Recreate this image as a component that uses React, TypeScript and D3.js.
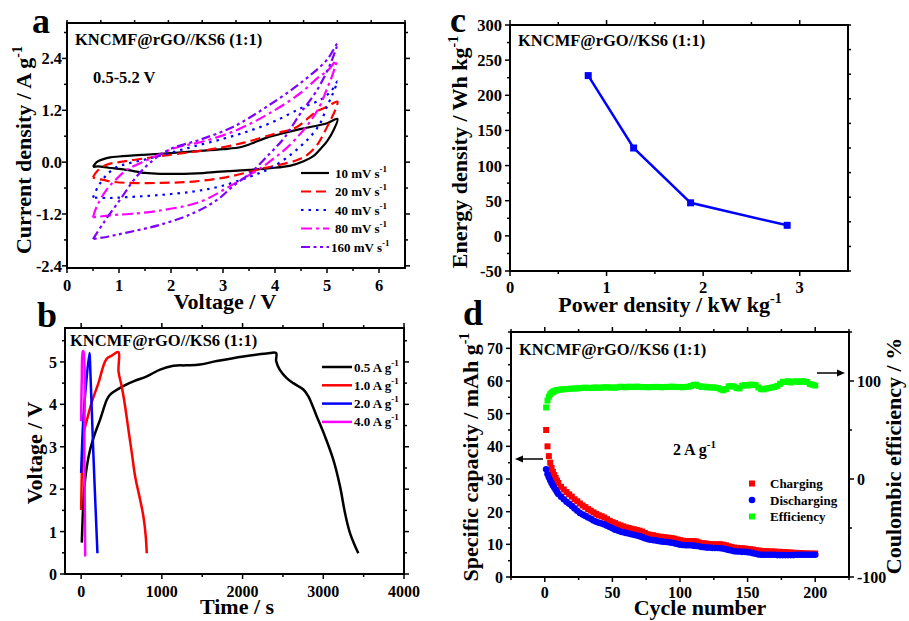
import React from "react";
import * as d3 from "d3";

const FONT = "'Liberation Serif','Times New Roman',Times,serif";
const SAMPLE = "KNCMF@rGO//KS6 (1:1)";

// ---------------- Panel a : CV curves ----------------
const cvRates = ["10", "20", "40", "80", "160"];
const cvColors = ["#000000", "#ff0000", "#0000ff", "#ff00ff", "#8000ff"];
const cvDash = ["none", "10,5", "2.5,5", "11,4,3,4", "9,3.5,3,3.5,3,3.5"];
const cv10V = [0.5, 0.57, 0.7, 0.83, 1.0, 1.47, 2.0, 2.43, 3.0, 3.35, 3.55, 3.8, 4.1, 4.5, 5.0, 5.2, 5.13, 5.0, 4.87, 4.75, 4.55, 4.3, 3.91, 3.5, 2.95, 2.5, 1.79, 1.5, 1.15, 0.8, 0.6, 0.5];
const cv10I = [-0.11, 0.0, 0.07, 0.11, 0.13, 0.17, 0.21, 0.25, 0.3, 0.35, 0.43, 0.55, 0.65, 0.77, 0.9, 1.0, 0.75, 0.48, 0.3, 0.15, 0.02, -0.08, -0.14, -0.18, -0.22, -0.26, -0.27, -0.25, -0.18, -0.13, -0.1, -0.11];
const cv20V = [0.5, 0.57, 0.76, 1.0, 1.28, 1.98, 2.5, 2.88, 3.4, 4.0, 4.4, 4.6, 4.8, 5.0, 5.2, 5.16, 5.07, 4.94, 4.81, 4.62, 4.43, 4.1, 3.78, 3.14, 2.43, 1.8, 1.15, 0.85, 0.7, 0.55, 0.5];
const cv20I = [-0.35, -0.22, -0.06, 0.0, 0.05, 0.17, 0.25, 0.32, 0.45, 0.66, 0.8, 0.98, 1.17, 1.28, 1.4, 1.21, 0.98, 0.67, 0.4, 0.17, 0.05, -0.06, -0.14, -0.33, -0.45, -0.48, -0.48, -0.45, -0.41, -0.38, -0.35];
const cv40V = [0.5, 0.6, 0.76, 0.95, 1.15, 1.5, 2.0, 2.43, 3.0, 3.5, 4.0, 4.5, 4.87, 5.07, 5.2, 5.1, 5.0, 4.87, 4.68, 4.52, 4.3, 3.91, 3.53, 2.95, 2.43, 1.79, 1.15, 0.8, 0.5];
const cv40I = [-0.82, -0.56, -0.3, -0.12, -0.04, 0.06, 0.22, 0.36, 0.54, 0.72, 0.95, 1.25, 1.44, 1.63, 1.87, 1.55, 1.29, 0.9, 0.59, 0.4, 0.17, -0.14, -0.33, -0.56, -0.68, -0.76, -0.81, -0.83, -0.82];
const cv80V = [0.5, 0.57, 0.76, 0.96, 1.15, 1.54, 2.11, 2.56, 3.2, 3.85, 4.49, 4.87, 5.0, 5.18, 5.1, 5.0, 4.87, 4.7, 4.49, 4.2, 3.97, 3.7, 3.5, 3.07, 2.56, 1.79, 1.2, 0.83, 0.5];
const cv80I = [-1.28, -1.03, -0.64, -0.38, -0.18, 0.05, 0.34, 0.46, 0.71, 1.1, 1.6, 2.0, 2.1, 2.35, 2.0, 1.7, 1.32, 0.98, 0.66, 0.3, 0.08, -0.16, -0.3, -0.6, -0.92, -1.12, -1.2, -1.23, -1.28];
const cv160V = [0.5, 0.7, 1.02, 1.34, 1.66, 1.98, 2.56, 3.2, 3.85, 4.49, 5.0, 5.2, 5.07, 4.81, 4.49, 4.17, 3.91, 3.53, 3.2, 2.88, 2.43, 1.79, 1.15, 0.8, 0.5];
const cv160I = [-1.78, -1.41, -0.87, -0.33, 0.05, 0.3, 0.52, 0.82, 1.29, 1.83, 2.37, 2.75, 2.29, 1.67, 1.13, 0.55, 0.21, -0.25, -0.55, -0.88, -1.18, -1.45, -1.63, -1.72, -1.78];
const cvV = [cv10V, cv20V, cv40V, cv80V, cv160V];
const cvI = [cv10I, cv20I, cv40I, cv80I, cv160I];
const aXTicks = [0, 1, 2, 3, 4, 5, 6];
const aXMinor = [0.5, 1.5, 2.5, 3.5, 4.5, 5.5];
const aYTicks = [-2.4, -1.2, 0, 1.2, 2.4];
const aYLabels = ["-2.4", "-1.2", "0.0", "1.2", "2.4"];
const aYMinor = [-1.8, -0.6, 0.6, 1.8, 3.0];

// ---------------- Panel b : GCD ----------------
const gcdRates = ["0.5 A g", "1.0 A g", "2.0 A g", "4.0 A g"];
const gcdColors = ["#000000", "#ff0000", "#0000ff", "#ff00ff"];
const gcd05T = [8, 21, 37, 70, 111, 173, 235, 318, 359, 483, 648, 813, 978, 1143, 1300, 1474, 1680, 2010, 2300, 2415, 2416, 2460, 2547, 2629, 2753, 2815, 2918, 3022, 3125, 3208, 3270, 3332, 3434];
const gcd05V = [0.74, 1.43, 1.98, 2.53, 2.93, 3.32, 3.64, 4.11, 4.23, 4.39, 4.54, 4.66, 4.82, 4.91, 4.92, 4.94, 5.02, 5.13, 5.2, 5.21, 5.02, 4.82, 4.62, 4.5, 4.35, 4.19, 3.72, 3.24, 2.69, 2.06, 1.43, 0.96, 0.49];
const gcd1T = [0, 12, 29, 70, 132, 214, 310, 380, 462, 463, 503, 545, 586, 628, 669, 731, 772, 800, 813];
const gcd1V = [1.51, 2.6, 3.3, 3.62, 4.05, 4.5, 5.06, 5.15, 5.23, 4.78, 4.42, 3.95, 3.4, 2.85, 2.3, 1.75, 1.35, 0.9, 0.49];
const gcd2T = [0, 15, 29, 62, 103, 110, 150, 202];
const gcd2V = [2.38, 3.2, 3.72, 4.5, 5.21, 5.0, 2.9, 0.49];
const gcd4T = [0, 8, 21, 29, 40, 50];
const gcd4V = [3.6, 4.6, 5.25, 5.25, 2.8, 0.41];
const gcdT = [gcd05T, gcd1T, gcd2T, gcd4T];
const gcdV = [gcd05V, gcd1V, gcd2V, gcd4V];
const bXTicks = [0, 1000, 2000, 3000, 4000];
const bXMinor = [500, 1500, 2500, 3500];
const bYTicks = [0, 1, 2, 3, 4, 5];
const bYMinor = [0.5, 1.5, 2.5, 3.5, 4.5, 5.5];

// ---------------- Panel c : Ragone ----------------
const cPower = [0.81, 1.28, 1.87, 2.87];
const cEnergy = [228, 125, 47, 15];
const cXTicks = [0, 1, 2, 3];
const cXMinor = [0.5, 1.5, 2.5];
const cYTicks = [-50, 0, 50, 100, 150, 200, 250, 300];
const cYMinor = [-25, 25, 75, 125, 175, 225, 275];

// ---------------- Panel d : cycling ----------------
const dCycles = [1, 2, 3, 4, 5, 6, 7, 8, 9, 10,
  12, 14, 16, 18, 20, 22, 24, 26, 28, 30,
  32, 34, 36, 38, 40, 42, 44, 46, 48, 50,
  52, 54, 56, 58, 60, 62, 64, 66, 68, 70,
  72, 74, 76, 78, 80, 82, 84, 86, 88, 90,
  92, 94, 96, 98, 100, 102, 104, 106, 108, 110,
  112, 114, 116, 118, 120, 122, 124, 126, 128, 130,
  132, 134, 136, 138, 140, 142, 144, 146, 148, 150,
  152, 154, 156, 158, 160, 162, 164, 166, 168, 170,
  172, 174, 176, 178, 180, 182, 184, 186, 188, 190,
  192, 194, 196, 198, 200];
const dCharge = [45, 40, 37, 35, 33.4, 32.2, 31.2, 30.3, 29.5, 28.8,
  27.6, 26.8, 26.0, 25.3, 24.6, 23.8, 23.2, 22.5, 21.9, 21.4,
  20.8, 20.3, 19.8, 19.3, 18.9, 18.6, 18.2, 17.7, 17.2, 16.8,
  16.5, 16.1, 15.8, 15.5, 15.2, 15.0, 14.8, 14.6, 14.4, 14.2,
  13.9, 13.5, 13.1, 12.9, 12.8, 12.6, 12.4, 12.3, 12.2, 12.1,
  12.0, 11.9, 11.7, 11.5, 11.3, 11.1, 11.0, 11.0, 11.0, 11.0,
  10.9, 10.6, 10.4, 10.3, 10.2, 10.1, 10.0, 10.0, 10.0, 10.0,
  9.9, 9.7, 9.4, 9.2, 9.0, 8.9, 8.8, 8.8, 8.7, 8.6,
  8.5, 8.4, 8.2, 8.1, 8.0, 7.9, 7.9, 7.8, 7.8, 7.8,
  7.7, 7.7, 7.6, 7.6, 7.5, 7.5, 7.4, 7.4, 7.3, 7.3,
  7.2, 7.2, 7.2, 7.1, 7.2];
const dDischarge = [33, 31.5, 30.5, 29.6, 28.8, 28.0, 27.4, 26.7, 26.0, 25.4,
  24.6, 23.8, 23.0, 22.4, 21.7, 21.0, 20.3, 19.6, 19.1, 18.7,
  18.2, 17.8, 17.3, 16.9, 16.6, 16.4, 16.1, 15.7, 15.3, 14.9,
  14.5, 14.2, 13.9, 13.7, 13.5, 13.3, 13.1, 12.9, 12.7, 12.5,
  12.2, 11.9, 11.6, 11.4, 11.3, 11.2, 11.0, 10.9, 10.8, 10.7,
  10.6, 10.5, 10.3, 10.1, 9.9, 9.8, 9.7, 9.7, 9.7, 9.6,
  9.5, 9.4, 9.2, 9.1, 9.0, 9.0, 8.9, 8.9, 8.9, 8.8,
  8.7, 8.5, 8.3, 8.1, 7.9, 7.8, 7.8, 7.7, 7.7, 7.6,
  7.5, 7.3, 7.1, 6.9, 6.8, 6.8, 6.8, 6.8, 6.8, 6.8,
  6.7, 6.7, 6.7, 6.7, 6.7, 6.7, 6.7, 6.8, 6.8, 6.8,
  6.8, 6.8, 6.8, 6.8, 6.8];
const dEfficiency = [73, 80, 84, 86.5, 88, 89, 89.7, 90.2, 90.6, 91,
  91.3, 91.6, 91.8, 92, 92.2, 92.4, 92.3, 92.8, 93, 93.2,
  92.8, 93, 93.2, 93.4, 93, 93.2, 93.6, 93.5, 93.3, 93.4,
  93.2, 93.5, 94.2, 93.8, 93.6, 94.2, 94, 93.8, 94.3, 94,
  93.8, 93.9, 93.6, 93.8, 93.8, 94, 93.9, 93.6, 93.8, 94,
  93.9, 94.3, 93.9, 94, 93.8, 93.6, 93.9, 94.2, 94.8, 96,
  96.2, 94.8, 94, 94.3, 93.5, 93.6, 93.4, 93.3, 92.8, 91.5,
  90.5, 91.8, 94.6, 94.8, 94.3, 92.8, 92.4, 95.2, 95.8, 95.3,
  96.2, 96.3, 95.8, 93.4, 91.6, 91.5, 92.4, 92.8, 93.4, 94,
  95, 97.2, 99.2, 99, 99.8, 98.5, 99.4, 99.8, 99, 99.8,
  99.4, 99, 97, 96.2, 95.4];
const dLegend = ["Charging", "Discharging", "Efficiency"];
const dXTicks = [0, 50, 100, 150, 200];
const dXMinor = [-25, 25, 75, 125, 175, 225];
const dYTicks = [0, 10, 20, 30, 40, 50, 60, 70];
const dYMinor = [5, 15, 25, 35, 45, 55, 65, 75];
const dY2Ticks = [-100, 0, 100];
const dY2Minor = [-50, 50, 150];

// ---------------- helpers ----------------
type Tk = { p: number; major: boolean };
const tk = (s: (v: number) => number, majors: number[], minors: number[]): Tk[] => [
  ...majors.map((v) => ({ p: s(v), major: true })),
  ...minors.map((v) => ({ p: s(v), major: false })),
];

function Frame({ l, r, t, b, bottom, top, left, right }: { l: number; r: number; t: number; b: number; bottom: Tk[]; top: Tk[]; left: Tk[]; right: Tk[] }) {
  const L = (k: Tk) => (k.major ? 5 : 3);
  return (
    <g stroke="#000" strokeWidth={1.5}>
      {bottom.map((k, i) => <line key={"b" + i} x1={k.p} x2={k.p} y1={b} y2={b + L(k)} />)}
      {top.map((k, i) => <line key={"t" + i} x1={k.p} x2={k.p} y1={t} y2={t - L(k)} />)}
      {left.map((k, i) => <line key={"l" + i} x1={l} x2={l - L(k)} y1={k.p} y2={k.p} />)}
      {right.map((k, i) => <line key={"r" + i} x1={r} x2={r + L(k)} y1={k.p} y2={k.p} />)}
      <rect x={l} y={t} width={r - l} height={b - t} fill="none" strokeWidth={2} />
    </g>
  );
}

const Sup = ({ dy = -8, fs = 12 }: { dy?: number; fs?: number }) => (
  <tspan dy={dy} fontSize={fs}>-1</tspan>
);

function YTitle({ x, y, children, fs = 22 }: { x: number; y: number; children: React.ReactNode; fs?: number }) {
  return (
    <text transform={`translate(${x},${y}) rotate(-90)`} textAnchor="middle" fontSize={fs}>
      {children}
    </text>
  );
}

const evenDiv = (a: number, b: number, n: number): Tk[] => d3.range(n + 1).map((i) => ({ p: a + ((b - a) * i) / n, major: false }));

export default function App() {
  const ax = d3.scaleLinear().domain([0, 6.5]).range([67, 405]);
  const ay = d3.scaleLinear().domain([-2.45, 3.22]).range([268, 23]);
  const bx = d3.scaleLinear().domain([-200, 4000]).range([65, 404]);
  const by = d3.scaleLinear().domain([0, 5.8]).range([574, 328]);
  const cx = d3.scaleLinear().domain([0, 3.5]).range([510, 848]);
  const cy = d3.scaleLinear().domain([-50, 300]).range([271, 25]);
  const dx = d3.scaleLinear().domain([-25, 225]).range([511, 849]);
  const dy = d3.scaleLinear().domain([0, 75]).range([577, 332]);
  const dy2 = d3.scaleLinear().domain([-100, 150]).range([577, 332]);

  const cvLine = d3
    .line<[number, number]>()
    .x((d) => ax(d[0]))
    .y((d) => ay(d[1]))
    .curve(d3.curveCatmullRom.alpha(0.5));
  const gcdLine = d3
    .line<[number, number]>()
    .x((d) => bx(d[0]))
    .y((d) => by(d[1]))
    .curve(d3.curveCatmullRom.alpha(0.5));
  const cLine = d3
    .line<[number, number]>()
    .x((d) => cx(d[0]))
    .y((d) => cy(d[1]));

  const legRowA = (i: number) => 173 + i * 18.5;
  const legRowB = (i: number) => 367 + i * 18.3;
  const legRowD = (i: number) => 483.5 + i * 16.5;

  return (
    <svg width={909} height={621} style={{ position: "absolute", left: 0, top: 0, background: "#fff" }} fontFamily={FONT} fontWeight="bold">
      <rect x={0} y={0} width={909} height={621} fill="#fff" />

      {/* ================= Panel a ================= */}
      <g>
        {cvRates.map((r, k) => (
          <path
            key={r}
            d={cvLine(cvV[k].map((v, i) => [v, cvI[k][i]] as [number, number])) || ""}
            fill="none"
            stroke={cvColors[k]}
            strokeWidth={2.2}
            strokeDasharray={cvDash[k]}
            strokeLinejoin="round"
          />
        ))}
        <Frame
          l={67} r={405} t={23} b={268}
          bottom={tk(ax, aXTicks, aXMinor)}
          top={evenDiv(67, 405, 10)}
          left={tk(ay, aYTicks, aYMinor)}
          right={tk(ay, aYTicks, aYMinor)}
        />
        {aXTicks.map((v) => (
          <text key={v} x={ax(v)} y={291} textAnchor="middle" fontSize={16.5}>{v}</text>
        ))}
        {aYTicks.map((v, i) => (
          <text key={v} x={62} y={ay(v) + 6} textAnchor="end" fontSize={16.5}>{aYLabels[i]}</text>
        ))}
        <text x={225} y={309} textAnchor="middle" fontSize={22}>Voltage / V</text>
        <YTitle x={31} y={150}>Current density / A g<Sup dy={-9} fs={14} /></YTitle>
        <text x={32} y={33} fontSize={36}>a</text>
        <text x={75} y={45} fontSize={16.5}>{SAMPLE}</text>
        <text x={93} y={83} fontSize={16.5}>0.5-5.2 V</text>
        {cvRates.map((r, k) => (
          <g key={r}>
            <line x1={301} x2={329} y1={legRowA(k)} y2={legRowA(k)} stroke={cvColors[k]} strokeWidth={2.2} strokeDasharray={cvDash[k]} />
            <text x={k === 4 ? 331 : 335} y={legRowA(k) + 4.5} fontSize={13}>
              {r} mV s<Sup dy={-6} fs={9} />
            </text>
          </g>
        ))}
      </g>

      {/* ================= Panel b ================= */}
      <g>
        {gcdRates.map((r, k) => (
          <path
            key={r}
            d={gcdLine(gcdT[k].map((t, i) => [t, gcdV[k][i]] as [number, number])) || ""}
            fill="none"
            stroke={gcdColors[k]}
            strokeWidth={2.5}
            strokeLinejoin="round"
          />
        ))}
        <Frame
          l={65} r={404} t={328} b={574}
          bottom={tk(bx, bXTicks, bXMinor)}
          top={tk(bx, bXTicks, bXMinor)}
          left={tk(by, bYTicks, bYMinor)}
          right={tk(by, bYTicks, bYMinor)}
        />
        {bXTicks.map((v) => (
          <text key={v} x={bx(v)} y={597} textAnchor="middle" fontSize={16}>{v}</text>
        ))}
        {bYTicks.map((v) => (
          <text key={v} x={57} y={by(v) + 6} textAnchor="end" fontSize={16}>{v}</text>
        ))}
        <text x={237} y={614} textAnchor="middle" fontSize={22}>Time / s</text>
        <YTitle x={42} y={453}>Voltage / V</YTitle>
        <text x={37} y={327} fontSize={36}>b</text>
        <text x={70} y={346} fontSize={16.5}>{SAMPLE}</text>
        {gcdRates.map((r, k) => (
          <g key={r}>
            <line x1={322} x2={352} y1={legRowB(k)} y2={legRowB(k)} stroke={gcdColors[k]} strokeWidth={2.5} />
            <text x={354} y={legRowB(k) + 4.5} fontSize={13}>
              {r}<Sup dy={-6} fs={9} />
            </text>
          </g>
        ))}
      </g>

      {/* ================= Panel c ================= */}
      <g>
        <path
          d={cLine(cPower.map((p, i) => [p, cEnergy[i]] as [number, number])) || ""}
          fill="none"
          stroke="#0000ff"
          strokeWidth={2.5}
        />
        {cPower.map((p, i) => (
          <rect key={i} x={cx(p) - 3.5} y={cy(cEnergy[i]) - 3.5} width={7} height={7} fill="#0000ff" />
        ))}
        <Frame
          l={510} r={848} t={25} b={271}
          bottom={tk(cx, cXTicks, cXMinor)}
          top={tk(cx, cXTicks, cXMinor)}
          left={tk(cy, cYTicks, cYMinor)}
          right={evenDiv(25, 271, 10)}
        />
        {cXTicks.map((v) => (
          <text key={v} x={cx(v)} y={293} textAnchor="middle" fontSize={16.5}>{v}</text>
        ))}
        {cYTicks.map((v) => (
          <text key={v} x={502} y={cy(v) + 6} textAnchor="end" fontSize={16.5}>{v}</text>
        ))}
        <text x={670} y={312} textAnchor="middle" fontSize={22}>Power density / kW kg<Sup dy={-9} fs={14} /></text>
        <YTitle x={467} y={152}>Energy density / Wh kg<Sup dy={-9} fs={14} /></YTitle>
        <text x={450} y={32} fontSize={36}>c</text>
        <text x={518} y={46} fontSize={16.5}>{SAMPLE}</text>
      </g>

      {/* ================= Panel d ================= */}
      <g>
        {dCycles.map((c, i) => (
          <rect key={"e" + i} x={dx(c) - 3} y={dy2(dEfficiency[i]) - 3} width={6} height={6} fill="#00ff00" />
        ))}
        {dCycles.map((c, i) => (
          <rect key={"c" + i} x={dx(c) - 3} y={dy(dCharge[i]) - 3} width={6} height={6} fill="#ff0000" />
        ))}
        {dCycles.map((c, i) => (
          <circle key={"d" + i} cx={dx(c)} cy={dy(dDischarge[i])} r={3.3} fill="#0000ff" />
        ))}
        <Frame
          l={511} r={849} t={332} b={577}
          bottom={tk(dx, dXTicks, dXMinor)}
          top={tk(dx, dXTicks, dXMinor)}
          left={tk(dy, dYTicks, dYMinor)}
          right={tk(dy2, dY2Ticks, dY2Minor)}
        />
        {dXTicks.map((v) => (
          <text key={v} x={dx(v)} y={598} textAnchor="middle" fontSize={16}>{v}</text>
        ))}
        {dYTicks.map((v) => (
          <text key={v} x={503} y={dy(v) + 6} textAnchor="end" fontSize={16}>{v}</text>
        ))}
        {dY2Ticks.map((v) => (
          <text key={v} x={857} y={dy2(v) + 6} textAnchor="start" fontSize={16}>{v}</text>
        ))}
        <text x={700} y={615} textAnchor="middle" fontSize={22}>Cycle number</text>
        <YTitle x={478} y={457}>Specific capacity / mAh g<Sup dy={-9} fs={14} /></YTitle>
        <YTitle x={901} y={456}>Coulombic efficiency / %</YTitle>
        <text x={463} y={325} fontSize={36}>d</text>
        <text x={519} y={355} fontSize={16.5}>{SAMPLE}</text>
        <text x={673} y={455} fontSize={16}>2 A g<Sup dy={-7} fs={11} /></text>
        <g stroke="#000" strokeWidth={1.5} fill="#000">
          <line x1={543} x2={521} y1={459} y2={459} />
          <path d="M515,459 L523,455.5 L523,462.5 Z" stroke="none" />
          <line x1={817} x2={839} y1={373} y2={373} />
          <path d="M845,373 L837,369.5 L837,376.5 Z" stroke="none" />
        </g>
        {dLegend.map((name, k) => (
          <g key={name}>
            {k === 1 ? (
              <circle cx={752} cy={legRowD(k)} r={3.3} fill="#0000ff" />
            ) : (
              <rect x={749} y={legRowD(k) - 3} width={6} height={6} fill={k === 0 ? "#ff0000" : "#00ff00"} />
            )}
            <text x={770} y={legRowD(k) + 4.5} fontSize={13}>{name}</text>
          </g>
        ))}
      </g>
    </svg>
  );
}
